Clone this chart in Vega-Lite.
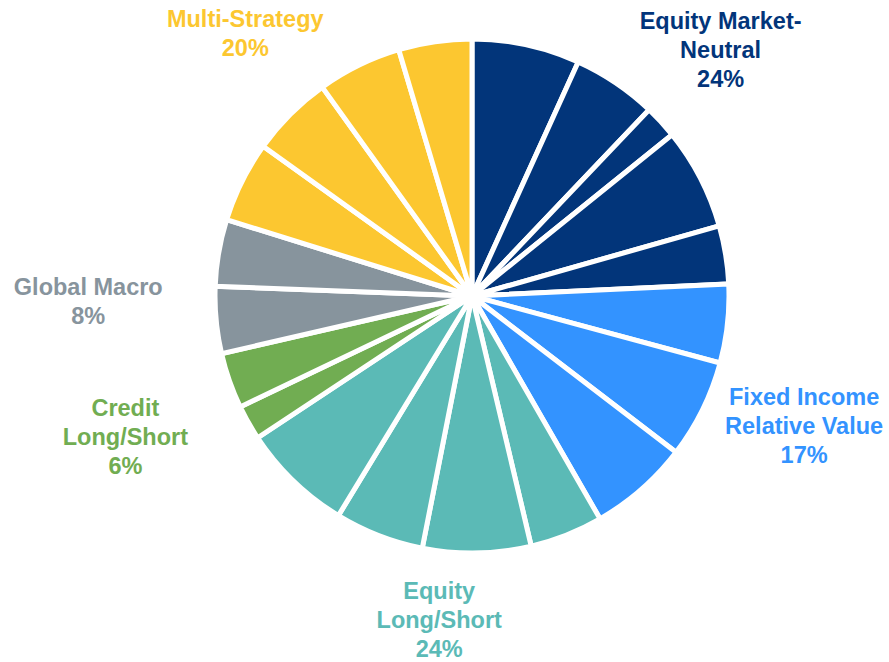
{
  "$schema": "https://vega.github.io/schema/vega-lite/v6.json",
  "width": 834,
  "height": 592,
  "autosize": {"type": "none"},
  "padding": {"left": 55, "top": 0, "right": 0, "bottom": 70},
  "background": "white",
  "config": {"view": {"stroke": null}},
  "datasets": {
    "slices": [
      {"i": 1, "k": 1, "cat": "Equity Market-Neutral", "value": 6.78},
      {"i": 2, "k": 1, "cat": "Equity Market-Neutral", "value": 5.32},
      {"i": 3, "k": 1, "cat": "Equity Market-Neutral", "value": 2.1},
      {"i": 4, "k": 1, "cat": "Equity Market-Neutral", "value": 6.4},
      {"i": 5, "k": 1, "cat": "Equity Market-Neutral", "value": 3.65},
      {"i": 6, "k": 2, "cat": "Fixed Income Relative Value", "value": 4.95},
      {"i": 7, "k": 2, "cat": "Fixed Income Relative Value", "value": 6.2},
      {"i": 8, "k": 2, "cat": "Fixed Income Relative Value", "value": 6.3},
      {"i": 9, "k": 3, "cat": "Equity Long/Short", "value": 4.6},
      {"i": 10, "k": 3, "cat": "Equity Long/Short", "value": 6.8},
      {"i": 11, "k": 3, "cat": "Equity Long/Short", "value": 5.6},
      {"i": 12, "k": 3, "cat": "Equity Long/Short", "value": 7.0},
      {"i": 13, "k": 4, "cat": "Credit Long/Short", "value": 2.2},
      {"i": 14, "k": 4, "cat": "Credit Long/Short", "value": 3.5},
      {"i": 15, "k": 5, "cat": "Global Macro", "value": 4.2},
      {"i": 16, "k": 5, "cat": "Global Macro", "value": 4.2},
      {"i": 17, "k": 6, "cat": "Multi-Strategy", "value": 5.1},
      {"i": 18, "k": 6, "cat": "Multi-Strategy", "value": 5.2},
      {"i": 19, "k": 6, "cat": "Multi-Strategy", "value": 5.3},
      {"i": 20, "k": 6, "cat": "Multi-Strategy", "value": 4.6}
    ],
    "labels": [
      {"cat": "Equity Market-Neutral", "label": "Equity Market-\nNeutral\n24%"},
      {"cat": "Fixed Income Relative Value", "label": "Fixed Income\nRelative Value\n17%"},
      {"cat": "Equity Long/Short", "label": "Equity\nLong/Short\n24%"},
      {"cat": "Credit Long/Short", "label": "Credit\nLong/Short\n6%"},
      {"cat": "Global Macro", "label": "Global Macro\n8%"},
      {"cat": "Multi-Strategy", "label": "Multi-Strategy\n20%"}
    ]
  },
  "data": {"name": "slices"},
  "layer": [
    {
      "mark": {"type": "arc", "outerRadius": 257, "stroke": "white", "strokeWidth": 5},
      "encoding": {
        "theta": {"field": "value", "type": "quantitative", "stack": true, "scale": {"domain": [0, 100]}},
        "order": {"field": "i", "type": "quantitative"},
        "color": {
          "field": "cat", "type": "nominal", "legend": null,
          "scale": {
            "domain": ["Equity Market-Neutral", "Fixed Income Relative Value", "Equity Long/Short", "Credit Long/Short", "Global Macro", "Multi-Strategy"],
            "range": ["#02357A", "#3393FF", "#5BBAB6", "#71AD52", "#87949D", "#FCC730"]
          }
        }
      }
    },
    {
      "transform": [
        {"aggregate": [{"op": "sum", "field": "value", "as": "total"}], "groupby": ["cat", "k"]},
        {"stack": "total", "groupby": [], "sort": [{"field": "k", "order": "ascending"}], "as": ["s0", "s1"]},
        {"calculate": "(datum.s0 + datum.s1) / 2", "as": "mid"},
        {"lookup": "cat", "from": {"data": {"name": "labels"}, "key": "cat", "fields": ["label"]}}
      ],
      "encoding": {
        "theta": {"field": "mid", "type": "quantitative", "stack": null, "scale": {"domain": [0, 100]}},
        "text": {"field": "label", "type": "nominal"},
        "color": {"field": "cat", "type": "nominal", "legend": null}
      },
      "layer": [
        {
          "transform": [{"filter": "datum.k == 1"}],
          "mark": {"type": "text", "radius": 350, "dx": 7, "dy": -21, "font": "Liberation Sans", "fontWeight": "bold", "fontSize": 23.5, "lineHeight": 29, "lineBreak": "\n", "align": "center", "baseline": "middle"}
        },
        {
          "transform": [{"filter": "datum.k == 2"}],
          "mark": {"type": "text", "radius": 357, "dx": 19, "dy": -69, "font": "Liberation Sans", "fontWeight": "bold", "fontSize": 23.5, "lineHeight": 29, "lineBreak": "\n", "align": "center", "baseline": "middle"}
        },
        {
          "transform": [{"filter": "datum.k == 3"}],
          "mark": {"type": "text", "radius": 329, "dx": 43, "dy": -24, "font": "Liberation Sans", "fontWeight": "bold", "fontSize": 23.5, "lineHeight": 29, "lineBreak": "\n", "align": "center", "baseline": "middle"}
        },
        {
          "transform": [{"filter": "datum.k == 4"}],
          "mark": {"type": "text", "radius": 375, "dx": -2, "dy": -35, "font": "Liberation Sans", "fontWeight": "bold", "fontSize": 23.5, "lineHeight": 29, "lineBreak": "\n", "align": "center", "baseline": "middle"}
        },
        {
          "transform": [{"filter": "datum.k == 5"}],
          "mark": {"type": "text", "radius": 384, "dx": 0, "dy": 6, "font": "Liberation Sans", "fontWeight": "bold", "fontSize": 23.5, "lineHeight": 29, "lineBreak": "\n", "align": "center", "baseline": "middle"}
        },
        {
          "transform": [{"filter": "datum.k == 6"}],
          "mark": {"type": "text", "radius": 347, "dx": -21, "dy": 3, "font": "Liberation Sans", "fontWeight": "bold", "fontSize": 23.5, "lineHeight": 29, "lineBreak": "\n", "align": "center", "baseline": "middle"}
        }
      ]
    }
  ]
}
